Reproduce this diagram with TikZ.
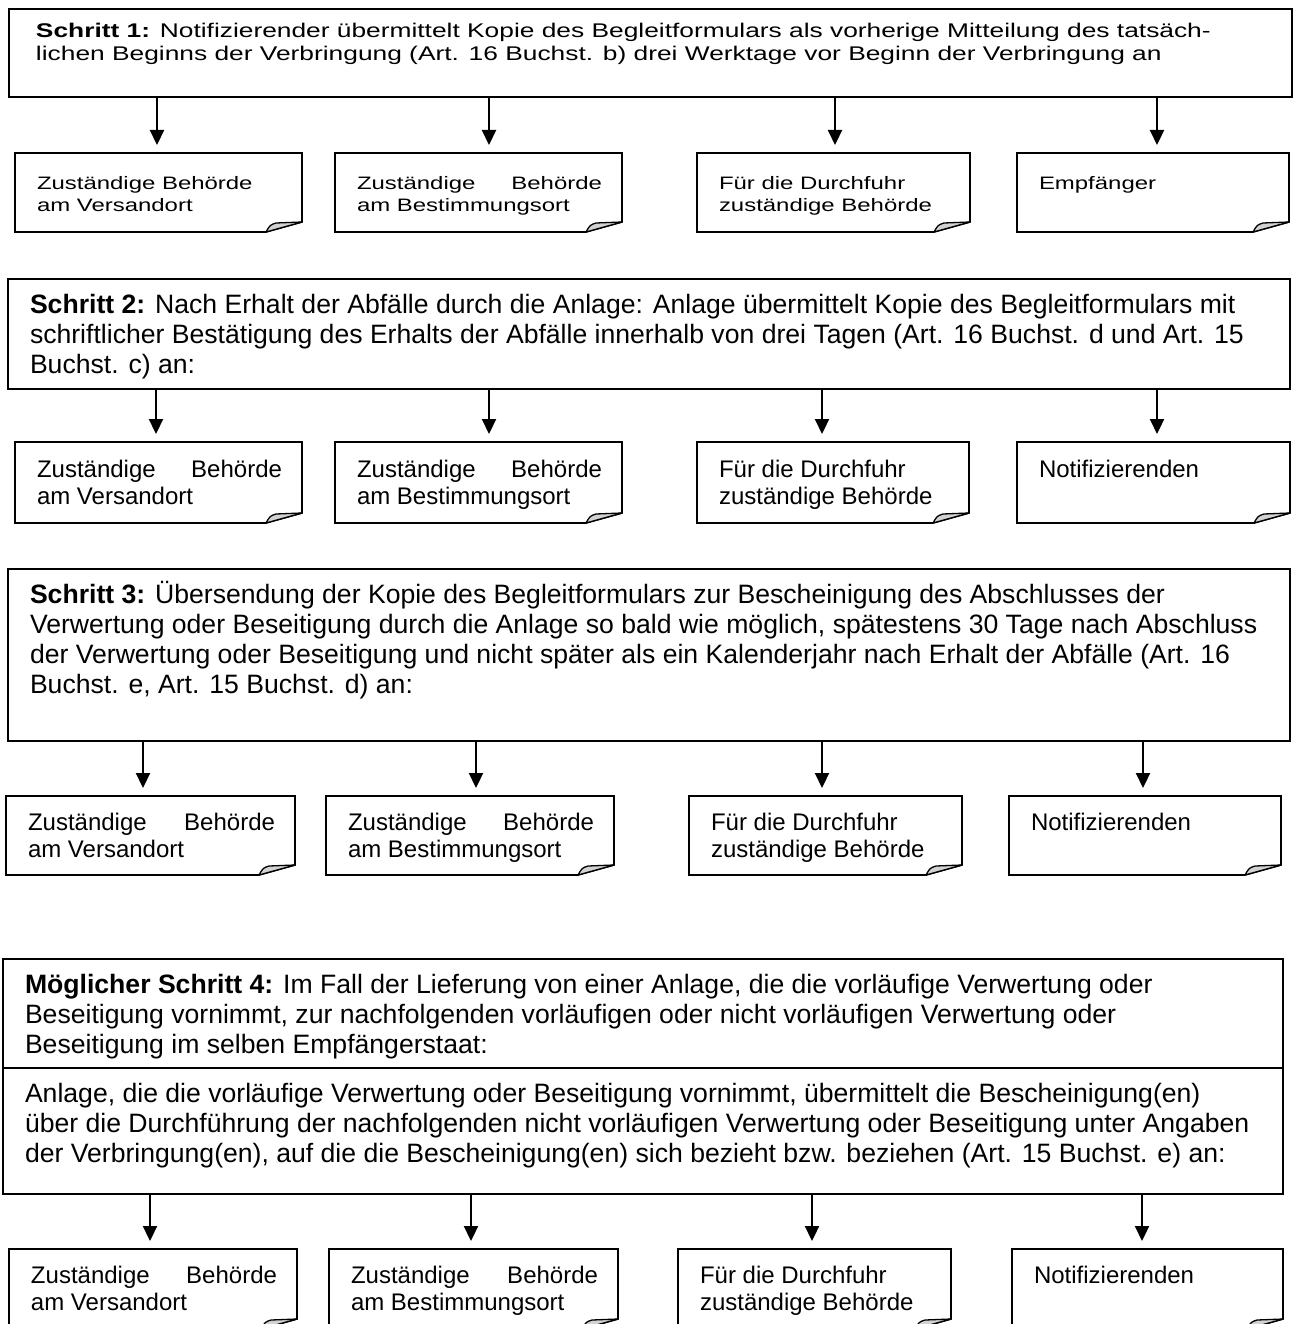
\documentclass[tikz,border=0pt]{standalone}
\usepackage{fontspec}
\setmainfont{Liberation Sans}
\newfontfamily\widefont[FakeStretch=1.33]{Liberation Sans}
\usetikzlibrary{arrows.meta}
% #1 width, #2 height, #3 left pad, #4 first baseline from top, #5 content
\newcommand\boxtxt[5]{\parbox[c][#2][t]{#1}{\vspace*{\dimexpr#4-\baselineskip\relax}\prevdepth=0pt
\leftskip=#3\relax\rightskip=-120pt plus 1fil\parindent=0pt\parfillskip=0pt plus 1fil\hyphenpenalty=10000\leavevmode #5\par}}
\newcommand\jl[2]{\hbox to \dimexpr\hsize-42pt\relax{#1\hfill #2}}
\newcommand\docshape[1]{%
 \draw[docline] (#1.north west) -- (#1.north east) -- ([yshift=10pt]#1.south east) -- ([xshift=-36pt]#1.south east) -- (#1.south west) -- cycle;
 \draw[foldc] ([xshift=-36pt]#1.south east) .. controls ([xshift=-32pt,yshift=7pt]#1.south east) .. ([xshift=-26pt,yshift=9pt]#1.south east) -- ([yshift=10pt]#1.south east) -- cycle;}
\tikzset{
 every node/.append style={outer sep=0pt},
 bigbox/.style={draw, line width=2.4pt, inner sep=0pt, outer sep=0pt, anchor=north west, font=\fontsize{26.6}{30}\selectfont},
 smallbox/.style={inner sep=0pt, outer sep=0pt, anchor=north west, font=\fontsize{24}{27.5}\selectfont},
 docline/.style={line width=1.6pt, line join=miter},
 foldc/.style={fill=gray!35, draw=black, line width=1.3pt, line join=round},
 arr/.style={line width=2.2pt, -{Triangle[length=15pt,width=14pt]}, shorten >=8pt}
}
\begin{document}
\begin{tikzpicture}[x=1pt,y=-1pt]
\useasboundingbox (0,0) rectangle (1295,1324);
% ---------- Row 1
\node[bigbox, font=\widefont\fontsize{19.8}{23}\selectfont] (b1) at (9,9) {\boxtxt{1283pt}{88pt}{27pt}{29pt}{\textbf{Schritt 1:} Notifizierender übermittelt Kopie des Begleitformulars als vorherige Mitteilung des tatsäch-\\lichen Beginns der Verbringung (Art. 16 Buchst. b) drei Werktage vor Beginn der Verbringung an}};
\begin{scope}[every node/.style={smallbox, font=\widefont\fontsize{18}{22}\selectfont}]
\node (s11) at (15,153) {\boxtxt{287pt}{79pt}{22pt}{37pt}{Zuständige Behörde\\am Versandort}};
\node (s12) at (335,153) {\boxtxt{287pt}{79pt}{22pt}{37pt}{\jl{Zuständige}{Behörde}\\am Bestimmungsort}};
\node (s13) at (697,153) {\boxtxt{273pt}{79pt}{22pt}{37pt}{Für die Durchfuhr\\zuständige Behörde}};
\node (s14) at (1017,153) {\boxtxt{272pt}{79pt}{22pt}{37pt}{Empfänger}};
\end{scope}
\foreach \n in {s11,s12,s13,s14} {\docshape{\n}}
\draw[arr] (b1.south -| 157,0) -- (s11.north -| 157,0);
\draw[arr] (b1.south -| 489,0) -- (s12.north -| 489,0);
\draw[arr] (b1.south -| 835,0) -- (s13.north -| 835,0);
\draw[arr] (b1.south -| 1157,0) -- (s14.north -| 1157,0);
% ---------- Row 2
\node[bigbox] (b2) at (8,279) {\boxtxt{1282pt}{110pt}{22pt}{34pt}{\textbf{Schritt 2:} Nach Erhalt der Abfälle durch die Anlage: Anlage übermittelt Kopie des Begleitformulars mit\\schriftlicher Bestätigung des Erhalts der Abfälle innerhalb von drei Tagen (Art. 16 Buchst. d und Art. 15\\Buchst. c) an:}};
\begin{scope}[every node/.style={smallbox}]
\node (s21) at (15,442) {\boxtxt{287pt}{81pt}{22pt}{35pt}{\jl{Zuständige}{Behörde}\\am Versandort}};
\node (s22) at (335,442) {\boxtxt{287pt}{81pt}{22pt}{35pt}{\jl{Zuständige}{Behörde}\\am Bestimmungsort}};
\node (s23) at (697,442) {\boxtxt{272pt}{81pt}{22pt}{35pt}{Für die Durchfuhr\\zuständige Behörde}};
\node (s24) at (1017,442) {\boxtxt{273pt}{81pt}{22pt}{35pt}{Notifizierenden}};
\end{scope}
\foreach \n in {s21,s22,s23,s24} {\docshape{\n}}
\draw[arr] (b2.south -| 156,0) -- (s21.north -| 156,0);
\draw[arr] (b2.south -| 489,0) -- (s22.north -| 489,0);
\draw[arr] (b2.south -| 822,0) -- (s23.north -| 822,0);
\draw[arr] (b2.south -| 1157,0) -- (s24.north -| 1157,0);
% ---------- Row 3
\node[bigbox] (b3) at (8,569) {\boxtxt{1282pt}{172pt}{22pt}{34pt}{\textbf{Schritt 3:} Übersendung der Kopie des Begleitformulars zur Bescheinigung des Abschlusses der\\Verwertung oder Beseitigung durch die Anlage so bald wie möglich, spätestens 30 Tage nach Abschluss\\der Verwertung oder Beseitigung und nicht später als ein Kalenderjahr nach Erhalt der Abfälle (Art. 16\\Buchst. e, Art. 15 Buchst. d) an:}};
\begin{scope}[every node/.style={smallbox}]
\node (s31) at (6,796) {\boxtxt{289pt}{79pt}{22pt}{34pt}{\jl{Zuständige}{Behörde}\\am Versandort}};
\node (s32) at (326,796) {\boxtxt{288pt}{79pt}{22pt}{34pt}{\jl{Zuständige}{Behörde}\\am Bestimmungsort}};
\node (s33) at (689,796) {\boxtxt{273pt}{79pt}{22pt}{34pt}{Für die Durchfuhr\\zuständige Behörde}};
\node (s34) at (1009,796) {\boxtxt{272pt}{79pt}{22pt}{34pt}{Notifizierenden}};
\end{scope}
\foreach \n in {s31,s32,s33,s34} {\docshape{\n}}
\draw[arr] (b3.south -| 143,0) -- (s31.north -| 143,0);
\draw[arr] (b3.south -| 476,0) -- (s32.north -| 476,0);
\draw[arr] (b3.south -| 822,0) -- (s33.north -| 822,0);
\draw[arr] (b3.south -| 1143,0) -- (s34.north -| 1143,0);
% ---------- Row 4
\node[bigbox] (b4a) at (3,959) {\boxtxt{1280pt}{109pt}{22pt}{34pt}{\textbf{Möglicher Schritt 4:} Im Fall der Lieferung von einer Anlage, die die vorläufige Verwertung oder\\Beseitigung vornimmt, zur nachfolgenden vorläufigen oder nicht vorläufigen Verwertung oder\\Beseitigung im selben Empfängerstaat:}};
\node[bigbox, draw=none] (b4b) at (b4a.south west) {\boxtxt{1280pt}{126pt}{22pt}{34pt}{Anlage, die die vorläufige Verwertung oder Beseitigung vornimmt, übermittelt die Bescheinigung(en)\\über die Durchführung der nachfolgenden nicht vorläufigen Verwertung oder Beseitigung unter Angaben\\der Verbringung(en), auf die die Bescheinigung(en) sich bezieht bzw. beziehen (Art. 15 Buchst. e) an:}};
\draw[line width=2.4pt, line join=miter] (b4b.north west) -- (b4b.south west) -- (b4b.south east) -- (b4b.north east);
\begin{scope}[every node/.style={smallbox}]
\node (s41) at (9,1249) {\boxtxt{288pt}{80pt}{22pt}{34pt}{\jl{Zuständige}{Behörde}\\am Versandort}};
\node (s42) at (329,1249) {\boxtxt{289pt}{80pt}{22pt}{34pt}{\jl{Zuständige}{Behörde}\\am Bestimmungsort}};
\node (s43) at (678,1249) {\boxtxt{273pt}{80pt}{22pt}{34pt}{Für die Durchfuhr\\zuständige Behörde}};
\node (s44) at (1012,1249) {\boxtxt{271pt}{80pt}{22pt}{34pt}{Notifizierenden}};
\end{scope}
\foreach \n in {s41,s42,s43,s44} {\docshape{\n}}
\draw[arr] (b4b.south -| 150,0) -- (s41.north -| 150,0);
\draw[arr] (b4b.south -| 471,0) -- (s42.north -| 471,0);
\draw[arr] (b4b.south -| 812,0) -- (s43.north -| 812,0);
\draw[arr] (b4b.south -| 1142,0) -- (s44.north -| 1142,0);
\end{tikzpicture}
\end{document}
